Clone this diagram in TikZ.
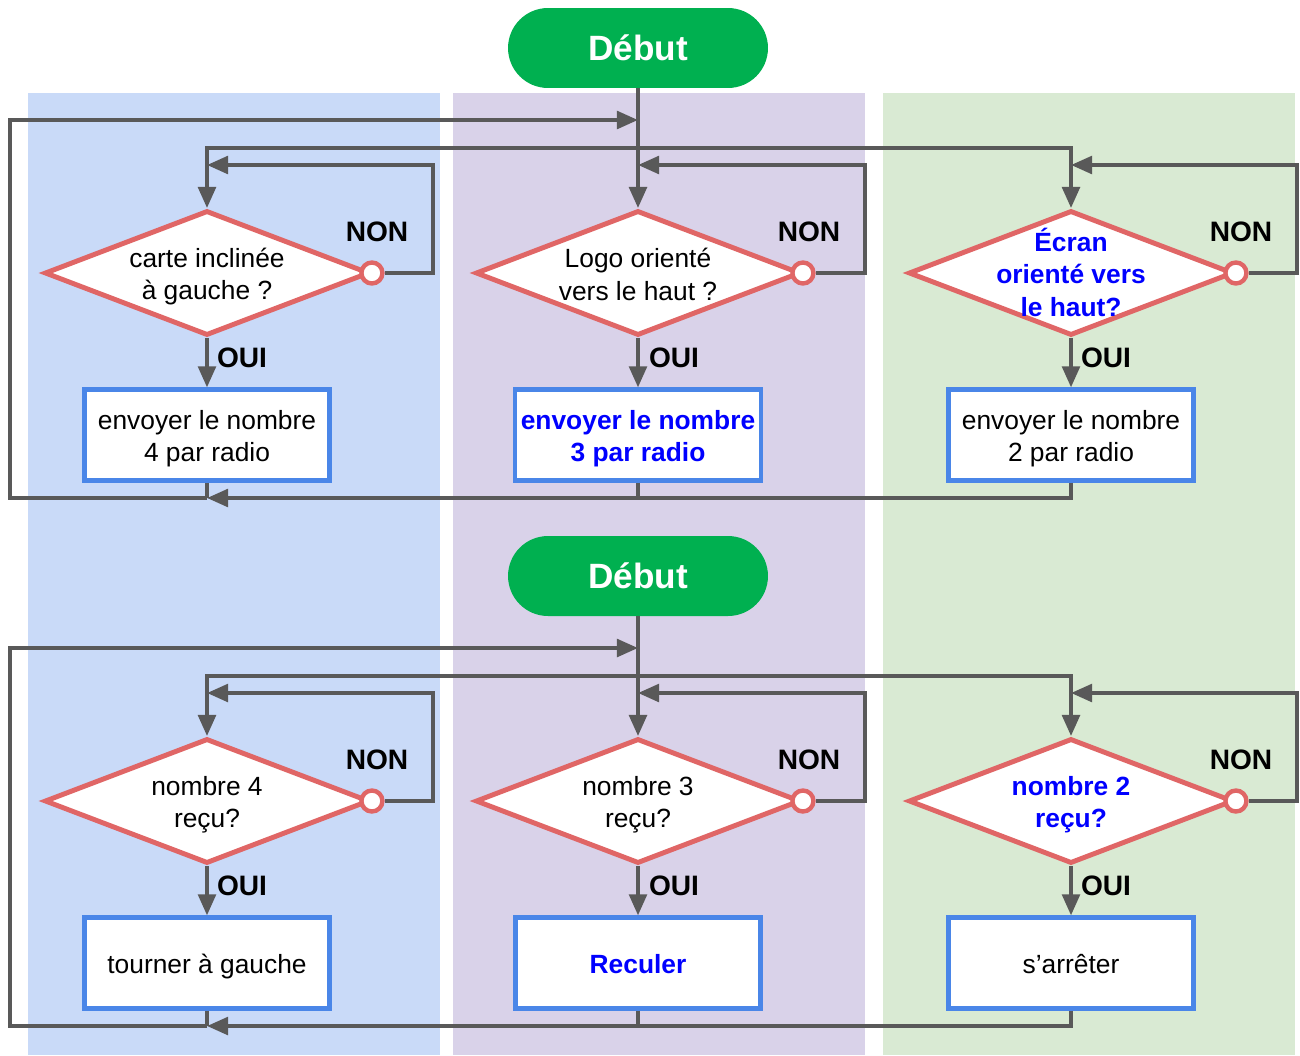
\documentclass[tikz,border=0pt]{standalone}
\usepackage{fontspec}
\setmainfont{Liberation Sans}
\usetikzlibrary{shapes.geometric,arrows.meta}

\definecolor{linegray}{HTML}{595959}
\definecolor{qred}{HTML}{E06666}
\definecolor{boxblue}{HTML}{4A86E8}
\definecolor{hiblue}{HTML}{0000FF}
\definecolor{startgreen}{HTML}{00B050}
\definecolor{bgblue}{HTML}{C9DAF8}
\definecolor{bgpurple}{HTML}{D9D2E9}
\definecolor{bggreen}{HTML}{D9EAD3}

\newcommand{\linestrut}{\vrule height 15pt depth 2.6pt width 0pt}

\tikzset{
  debut/.style={fill=startgreen, text=white, rounded corners=0.8cm, minimum width=5.2cm,
    minimum height=1.6cm, font=\fontsize{20}{24}\selectfont\bfseries},
  question/.style={diamond, draw=qred, fill=white, line width=2.8pt, minimum width=6.5cm,
    minimum height=2.5cm, inner sep=0pt},
  qtext/.style={align=center, inner sep=0pt, font=\fontsize{15}{18.4}\selectfont,
    execute at begin node=\linestrut, execute at end node=\linestrut},
  hilite/.style={text=hiblue, font=\fontsize{15}{18.4}\selectfont\bfseries},
  action/.style={draw=boxblue, fill=white, line width=2.4pt, minimum width=4.9cm,
    minimum height=1.82cm, align=center, font=\fontsize{15}{18.4}\selectfont,
    execute at begin node=\linestrut, execute at end node=\linestrut},
  nonport/.style={circle, draw=qred, fill=white, line width=2.5pt, minimum size=0.42cm, inner sep=0pt},
  answer/.style={inner sep=0pt, font=\fontsize{16}{19}\selectfont\bfseries},
  flow/.style={draw=linegray, line width=2.2pt, -{Triangle[length=12pt,width=10pt]}},
  wire/.style={draw=linegray, line width=2.2pt},
}

\begin{document}
\begin{tikzpicture}[x=0.02cm, y=-0.02cm]
	\useasboundingbox (0,0) rectangle (1300,1055);
	% colonnes
	\fill[bgblue] (28,93) rectangle (440,1055);
	\fill[bgpurple] (453,93) rectangle (865,1055);
	\fill[bggreen] (883,93) rectangle (1295,1055);

	%%% premier programme
	\node[debut] (debA) at (638,48) {Début};

	\node[question] (qA1) at (207,273) {};
	\node[qtext] (tA1) at (qA1) {\linestrut carte inclinée\\à gauche ?};
	\node[question] (qA2) at (638,273) {};
	\node[qtext] (tA2) at (qA2) {\linestrut Logo orienté\\vers le haut ?};
	\node[question] (qA3) at (1071,273) {};
	\node[qtext, hilite] (tA3) at (qA3) {\linestrut Écran\\orienté vers\\le haut?};

	\node[nonport] (nA1) at (qA1.east) {};
	\node[nonport] (nA2) at (qA2.east) {};
	\node[nonport] (nA3) at (qA3.east) {};

	\node[action] (aA1) at (207,435) {\linestrut envoyer le nombre\\4 par radio};
	\node[action, hilite] (aA2) at (638,435) {\linestrut envoyer le nombre\\3 par radio};
	\node[action] (aA3) at (1071,435) {\linestrut envoyer le nombre\\2 par radio};

	\coordinate (joinA) at (638,120);
	\coordinate (loopA) at (10,120);
	\coordinate (splitA) at (638,148);
	\coordinate (rA1) at (433,165);
	\coordinate (rA2) at (865,165);
	\coordinate (rA3) at (1297,165);
	\coordinate (backA) at (207,498);

	\draw[flow] (debA) -- (qA2);
	\draw[flow] (splitA) -| (qA1);
	\draw[flow] (splitA) -| (qA3);

	\draw[flow] (nA1) -| (rA1) -- (qA1.north |- rA1);
	\draw[flow] (nA2) -| (rA2) -- (qA2.north |- rA2);
	\draw[flow] (nA3) -| (rA3) -- (qA3.north |- rA3);

	\draw[flow] (qA1) -- (aA1);
	\draw[flow] (qA2) -- (aA2);
	\draw[flow] (qA3) -- (aA3);

	\draw[wire] (aA1) -- (backA);
	\draw[wire] (aA2) -- (aA2.south |- backA);
	\draw[flow] (aA3) |- (backA);
	\draw[flow] (backA) -| (loopA) -- (joinA);

	\node[answer] (ouiA1) at (242,358) {OUI};
	\node[answer] (ouiA2) at (674,358) {OUI};
	\node[answer] (ouiA3) at (1106,358) {OUI};
	\node[answer] (nonA1) at (377,232) {NON};
	\node[answer] (nonA2) at (809,232) {NON};
	\node[answer] (nonA3) at (1241,232) {NON};

	%%% second programme
	\node[debut] (debB) at (638,576) {Début};

	\node[question] (qB1) at (207,801) {};
	\node[qtext] (tB1) at (qB1) {\linestrut nombre 4\\reçu?};
	\node[question] (qB2) at (638,801) {};
	\node[qtext] (tB2) at (qB2) {\linestrut nombre 3\\reçu?};
	\node[question] (qB3) at (1071,801) {};
	\node[qtext, hilite] (tB3) at (qB3) {\linestrut nombre 2\\reçu?};

	\node[nonport] (nB1) at (qB1.east) {};
	\node[nonport] (nB2) at (qB2.east) {};
	\node[nonport] (nB3) at (qB3.east) {};

	\node[action] (aB1) at (207,963) {tourner à gauche};
	\node[action, hilite] (aB2) at (638,963) {Reculer};
	\node[action] (aB3) at (1071,963) {s’arrêter};

	\coordinate (joinB) at (638,648);
	\coordinate (loopB) at (10,648);
	\coordinate (splitB) at (638,676);
	\coordinate (rB1) at (433,693);
	\coordinate (rB2) at (865,693);
	\coordinate (rB3) at (1297,693);
	\coordinate (backB) at (207,1026);

	\draw[flow] (debB) -- (qB2);
	\draw[flow] (splitB) -| (qB1);
	\draw[flow] (splitB) -| (qB3);

	\draw[flow] (nB1) -| (rB1) -- (qB1.north |- rB1);
	\draw[flow] (nB2) -| (rB2) -- (qB2.north |- rB2);
	\draw[flow] (nB3) -| (rB3) -- (qB3.north |- rB3);

	\draw[flow] (qB1) -- (aB1);
	\draw[flow] (qB2) -- (aB2);
	\draw[flow] (qB3) -- (aB3);

	\draw[wire] (aB1) -- (backB);
	\draw[wire] (aB2) -- (aB2.south |- backB);
	\draw[flow] (aB3) |- (backB);
	\draw[flow] (backB) -| (loopB) -- (joinB);

	\node[answer] (ouiB1) at (242,886) {OUI};
	\node[answer] (ouiB2) at (674,886) {OUI};
	\node[answer] (ouiB3) at (1106,886) {OUI};
	\node[answer] (nonB1) at (377,760) {NON};
	\node[answer] (nonB2) at (809,760) {NON};
	\node[answer] (nonB3) at (1241,760) {NON};
\end{tikzpicture}
\end{document}
